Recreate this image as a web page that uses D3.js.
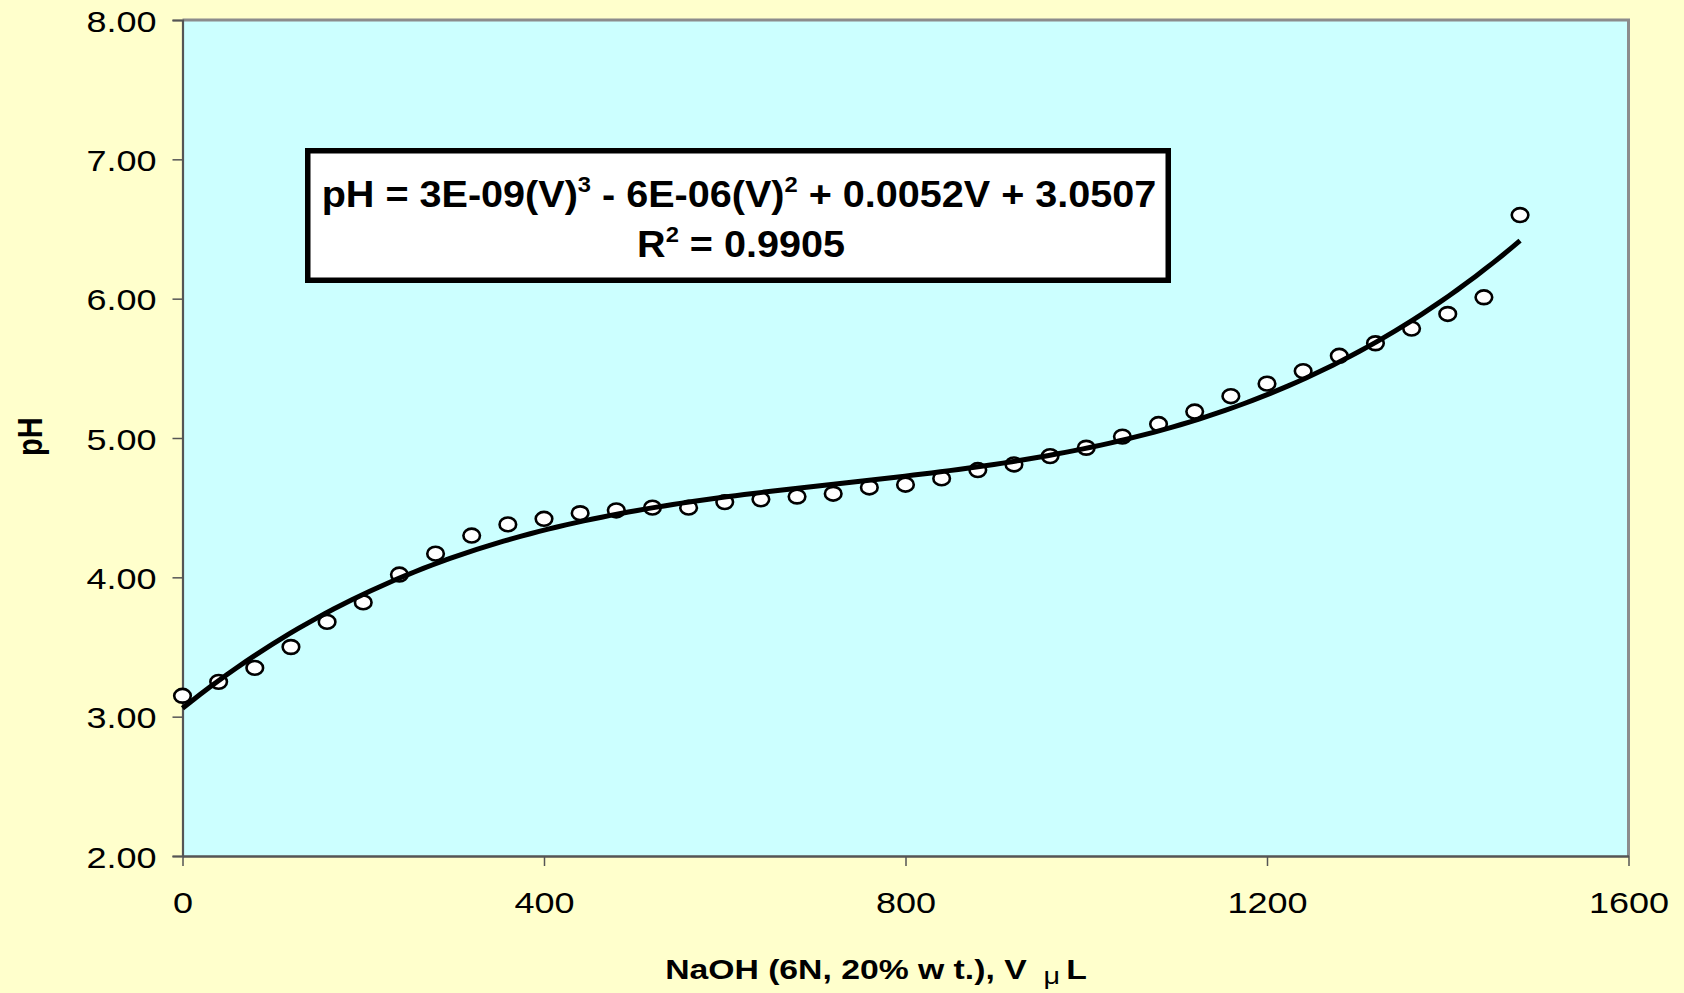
<!DOCTYPE html>
<html>
<head>
<meta charset="utf-8">
<script src="https://cdn.jsdelivr.net/npm/d3@7"></script>
<style>
  html, body { margin: 0; padding: 0; background: #FFFFCC; }
  svg { display: block; }
  text { font-family: "Liberation Sans", Arial, sans-serif; fill: #000; }
</style>
</head>
<body>
<svg id="chart" width="1684" height="993"></svg>
<script>
// NaOH titration volumes (µL) and measured pH
const volumes = [0, 40, 80, 120, 160, 200, 240, 280, 320, 360, 400, 440, 480, 520, 560, 600, 640, 680, 720, 760,
                 800, 840, 880, 920, 960, 1000, 1040, 1080, 1120, 1160, 1200, 1240, 1280, 1320, 1360, 1400, 1440, 1480];
const phValues = [3.15, 3.25, 3.35, 3.50, 3.68, 3.82, 4.02, 4.17, 4.30, 4.38, 4.42, 4.46, 4.48, 4.50, 4.50, 4.54, 4.56, 4.58, 4.60, 4.645,
                  4.665, 4.71, 4.77, 4.81, 4.87, 4.93, 5.01, 5.10, 5.19, 5.30, 5.39, 5.48, 5.59, 5.68, 5.785, 5.89, 6.01, 6.60];

const xTicks = [0, 400, 800, 1200, 1600];
const yTicks = [2, 3, 4, 5, 6, 7, 8];

const eqLine1 = [["pH = 3E-09(V)", false], ["3", true], [" - 6E-06(V)", false], ["2", true], [" + 0.0052V + 3.0507", false]];
const eqLine2 = [["R", false], ["2", true], [" = 0.9905", false]];

const plot = { left: 182.5, right: 1628.5, top: 20, bottom: 856 };
const WIDEN = 1.2;   // axis glyphs are drawn somewhat wide

const svg = d3.select("#chart");
const x = d3.scaleLinear().domain([0, 1600]).range([plot.left, plot.right]);
const y = d3.scaleLinear().domain([2, 8]).range([plot.bottom, plot.top]);

// page and plot backgrounds
svg.append("rect").attr("width", 1684).attr("height", 993).attr("fill", "#FFFFCC");
svg.append("rect")
  .attr("x", plot.left).attr("y", plot.top)
  .attr("width", plot.right - plot.left).attr("height", plot.bottom - plot.top)
  .attr("fill", "#CCFFFF");
// plot frame (top and right)
svg.append("path")
  .attr("d", `M${plot.left},${plot.top}H${plot.right}V${plot.bottom}`)
  .attr("fill", "none").attr("stroke", "#8C8C8C").attr("stroke-width", 3);

function widen(sel, k) {
  sel.each(function () {
    const w = this.getComputedTextLength();
    d3.select(this).attr("textLength", w * k).attr("lengthAdjust", "spacingAndGlyphs");
  });
}

// y axis
const yAxis = svg.append("g")
  .attr("transform", `translate(${plot.left},0)`)
  .call(d3.axisLeft(y).tickValues(yTicks).tickFormat(d3.format(".2f")).tickSize(10).tickPadding(26));
yAxis.select(".domain").attr("stroke", "#555").attr("stroke-width", 2.2);
yAxis.selectAll(".tick line").attr("stroke", "#555").attr("stroke-width", 1.5);
yAxis.selectAll(".tick text")
  .attr("font-family", "Liberation Sans, Arial, sans-serif")
  .attr("font-size", 30).attr("dy", 11).attr("x", -26).attr("fill", "#000")
  .call(widen, WIDEN);

// x axis
const xAxis = svg.append("g")
  .attr("transform", `translate(0,${plot.bottom})`)
  .call(d3.axisBottom(x).tickValues(xTicks).tickFormat(d3.format("d")).tickSize(10).tickSizeOuter(0));
xAxis.select(".domain").attr("stroke", "#555").attr("stroke-width", 2.4);
xAxis.selectAll(".tick line").attr("stroke", "#555").attr("stroke-width", 1.5);
xAxis.selectAll(".tick text")
  .attr("font-family", "Liberation Sans, Arial, sans-serif")
  .attr("font-size", 30).attr("y", 57).attr("dy", 0).attr("fill", "#000")
  .call(widen, WIDEN);

// least-squares cubic trendline through the measurements
function fitCubic(xs, ys) {
  const s = 1000;                       // rescale x for a well-conditioned system
  const n = 4;
  const A = Array.from({ length: n }, () => new Array(n + 1).fill(0));
  xs.forEach((xv, i) => {
    const t = xv / s;
    const p = [1, t, t * t, t * t * t];
    for (let r = 0; r < n; r++) {
      for (let c = 0; c < n; c++) A[r][c] += p[r] * p[c];
      A[r][n] += p[r] * ys[i];
    }
  });
  for (let c = 0; c < n; c++) {
    let piv = c;
    for (let r = c + 1; r < n; r++) if (Math.abs(A[r][c]) > Math.abs(A[piv][c])) piv = r;
    [A[c], A[piv]] = [A[piv], A[c]];
    for (let r = 0; r < n; r++) {
      if (r === c) continue;
      const f = A[r][c] / A[c][c];
      for (let k = c; k <= n; k++) A[r][k] -= f * A[c][k];
    }
  }
  const coef = A.map((row, i) => row[n] / row[i]);
  return v => { const t = v / s; return coef[0] + coef[1] * t + coef[2] * t * t + coef[3] * t * t * t; };
}
const trend = fitCubic(volumes, phValues);
const vMax = d3.max(volumes);
const trendPts = d3.range(0, vMax + 0.001, vMax / 150).map(v => [v, trend(v)]);

// measured points
svg.append("g").selectAll("ellipse")
  .data(volumes.map((v, i) => [v, phValues[i]]))
  .join("ellipse")
  .attr("cx", d => x(d[0])).attr("cy", d => y(d[1]))
  .attr("rx", 8.3).attr("ry", 6.9)
  .attr("fill", "#fff").attr("stroke", "#000").attr("stroke-width", 2.6);

// trendline over the points
svg.append("path")
  .datum(trendPts)
  .attr("d", d3.line().x(d => x(d[0])).y(d => y(d[1])))
  .attr("fill", "none").attr("stroke", "#000").attr("stroke-width", 5)
  .attr("stroke-linejoin", "round");

// equation box
const box = { x0: 305, x1: 1171, y0: 148, y1: 283, sw: 5.5 };
svg.append("rect")
  .attr("x", box.x0 + box.sw / 2).attr("y", box.y0 + box.sw / 2)
  .attr("width", box.x1 - box.x0 - box.sw).attr("height", box.y1 - box.y0 - box.sw)
  .attr("fill", "#fff").attr("stroke", "#000").attr("stroke-width", box.sw);

function richLine(parts, cx, baseline, size) {
  const g = svg.append("g").attr("transform", `translate(${cx},${baseline})`);
  const t = g.append("text").attr("text-anchor", "middle")
    .attr("font-size", size).attr("font-weight", "bold");
  let up = false;
  parts.forEach(([str, sup]) => {
    const ts = t.append("tspan").text(str);
    if (sup && !up) { ts.attr("dy", -size * 0.4).attr("font-size", size * 0.6); up = true; }
    else if (!sup && up) { ts.attr("dy", size * 0.4); up = false; }
    else if (sup) ts.attr("font-size", size * 0.6);
  });
  return { g, t };
}
const l1 = richLine(eqLine1, 739, 207, 37);
const l2 = richLine(eqLine2, 741, 257, 37);
const k1 = 835 / l1.t.node().getBBox().width;
l1.g.attr("transform", `translate(739,207) scale(${k1},1)`);
l2.g.attr("transform", `translate(741,257) scale(${k1},1)`);

// axis titles
const xt = svg.append("g");
const xText = xt.append("text").attr("text-anchor", "middle").attr("font-size", 27).attr("font-weight", "bold");
xText.append("tspan").text("NaOH (6N, 20% w t.), V ");
xText.append("tspan").text("μ").attr("font-weight", "normal").attr("font-size", 23).attr("dx", 6).attr("dy", 5);
xText.append("tspan").text("L").attr("dx", 5).attr("dy", -5);
const kx = 422 / xText.node().getBBox().width;
xt.attr("transform", `translate(876,979) scale(${kx},1)`);

svg.append("text")
  .attr("transform", `translate(41.7,436.7) scale(${WIDEN},1) rotate(-90)`)
  .attr("text-anchor", "middle").attr("font-size", 29).attr("font-weight", "bold")
  .text("pH");
</script>
</body>
</html>
